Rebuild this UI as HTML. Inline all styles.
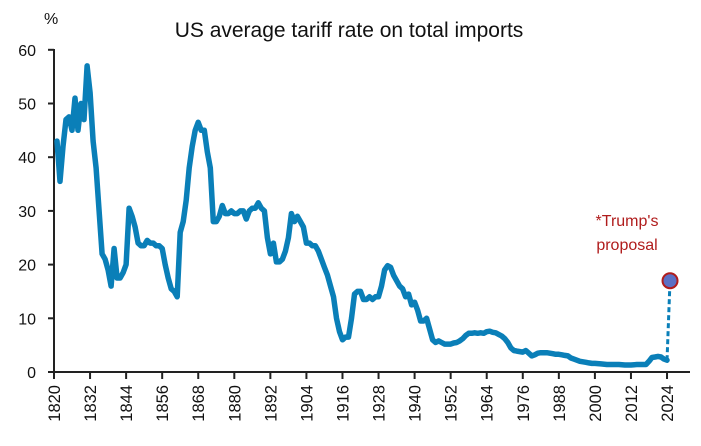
<!DOCTYPE html>
<html><head><meta charset="utf-8"><style>
body{margin:0;background:#fff;}
svg{display:block;font-family:"Liberation Sans",sans-serif;}
</style></head><body>
<svg id="chart" width="701" height="446" viewBox="0 0 701 446">
<text x="349" y="37" text-anchor="middle" font-size="21" fill="#111">US average tariff rate on total imports</text>
<text x="44" y="24" font-size="16" fill="#111">%</text>
<g id="axes"></g>
<g id="series"></g>
<text x="627" y="226" text-anchor="middle" font-size="16" fill="#b01c1c">*Trump's</text>
<text x="627" y="250" text-anchor="middle" font-size="16" fill="#b01c1c">proposal</text>
</svg>
<script>
const years = [1821,1822,1823,1824,1825,1826,1827,1828,1829,1830,1831,1832,1833,1834,1835,1836,1837,1838,1839,1840,1841,1842,1843,1844,1845,1846,1847,1848,1849,1850,1851,1852,1853,1854,1855,1856,1857,1858,1859,1860,1861,1862,1863,1864,1865,1866,1867,1868,1869,1870,1871,1872,1873,1874,1875,1876,1877,1878,1879,1880,1881,1882,1883,1884,1885,1886,1887,1888,1889,1890,1891,1892,1893,1894,1895,1896,1897,1898,1899,1900,1901,1902,1903,1904,1905,1906,1907,1908,1909,1910,1911,1912,1913,1914,1915,1916,1917,1918,1919,1920,1921,1922,1923,1924,1925,1926,1927,1928,1929,1930,1931,1932,1933,1934,1935,1936,1937,1938,1939,1940,1941,1942,1943,1944,1945,1946,1947,1948,1949,1950,1951,1952,1953,1954,1955,1956,1957,1958,1959,1960,1961,1962,1963,1964,1965,1966,1967,1968,1969,1970,1971,1972,1973,1974,1975,1976,1977,1978,1979,1980,1981,1982,1983,1984,1985,1986,1987,1988,1989,1990,1991,1992,1993,1994,1995,1996,1997,1998,1999,2000,2002,2004,2006,2008,2010,2012,2014,2016,2017,2018,2019,2020,2021,2022,2023,2024];
const rates = [43,35.5,42,47,47.5,45,51,45,50,47,57,52,43,38,30,22,21,19,16,23,17.5,17.5,18.5,20,30.5,29,27,24,23.5,23.5,24.5,24,24,23.5,23.5,23,20,17.5,15.5,15,14,26,28,32,38,42,45,46.5,45,45,41,38,28,28,29,31,29.5,29.5,30,29.5,29.5,30,30,28.5,30,30.5,30.5,31.5,30.5,30,25,22,24,20.5,20.5,21,22.5,25,29.5,28,29,28,27,24,24,23.5,23.5,22.5,21,19.5,18,16,14,10,7.5,6,6.5,6.5,10,14.5,15,15,13.5,13.5,14,13.5,14,14,16,19,19.8,19.5,18,17,16,15.5,14,14.5,12.5,13,11.5,9.5,9.5,10,8,6,5.5,5.8,5.5,5.2,5.2,5.2,5.4,5.5,5.8,6.2,6.8,7.2,7.2,7.3,7.2,7.3,7.2,7.5,7.6,7.4,7.3,7,6.7,6.2,5.5,4.5,4,3.9,3.8,3.7,4,3.5,3,3.2,3.5,3.6,3.6,3.6,3.5,3.4,3.3,3.3,3.2,3.1,3,2.6,2.4,2.2,2,1.9,1.8,1.7,1.6,1.6,1.5,1.4,1.4,1.4,1.3,1.3,1.4,1.4,1.4,2,2.7,2.8,2.9,2.8,2.4,2.2];
const proposalYear = 2025;
const proposalRate = 17;
const yTicks = [0,10,20,30,40,50,60];
const xTickLabels = [1820,1832,1844,1856,1868,1880,1892,1904,1916,1928,1940,1952,1964,1976,1988,2000,2012,2024];

const NS="http://www.w3.org/2000/svg";
const X = y => 54 + (y-1820)*3.005;
const Y = v => 372 - v*5.37;
const axes=document.getElementById('axes'), series=document.getElementById('series');
function mk(tag, attrs, parent){const e=document.createElementNS(NS,tag);for(const k in attrs)e.setAttribute(k,attrs[k]);parent.appendChild(e);return e;}

const yl=mk('line',{x1:54,y1:49,x2:54,y2:373,stroke:'#222','stroke-width':2},axes);


const xl=mk('line',{x1:53,y1:372,x2:690,y2:372,stroke:'#222','stroke-width':2},axes);


yTicks.forEach(v=>{
  const t=mk('line',{x1:48,y1:Y(v),x2:54,y2:Y(v),stroke:'#222','stroke-width':2},axes);
  
  
  const l=mk('text',{x:36,y:Y(v)+6,'text-anchor':'end','font-size':16,fill:'#111'},axes);
  l.textContent=v;
  
  
});
xTickLabels.forEach(yr=>{
  const x=X(yr);
  const t=mk('line',{x1:x,y1:372,x2:x,y2:379,stroke:'#222','stroke-width':2},axes);
  
  
  const l=mk('text',{x:0,y:0,'text-anchor':'end','font-size':16.5,fill:'#111',transform:`translate(${x+6},385) rotate(-90)`},axes);
  l.textContent=yr;
  
  
});
const d=years.map((yr,i)=>(i?'L':'M')+X(yr).toFixed(1)+','+Y(rates[i]).toFixed(1)).join(' ');
const p=mk('path',{d:d,fill:'none',stroke:'#0a7fb8','stroke-width':5.5,'stroke-linejoin':'round','stroke-linecap':'round'},series);


const last=years.length-1;
const dl=mk('line',{x1:X(years[last]),y1:Y(rates[last]),x2:X(proposalYear),y2:Y(proposalRate),stroke:'#0a7fb8','stroke-width':3,'stroke-dasharray':'5,3'},series);


const c=mk('circle',{cx:X(proposalYear),cy:Y(proposalRate),r:7.5,fill:'#5b6fc4',stroke:'#b01c1c','stroke-width':2},series);


</script>
</body></html>
